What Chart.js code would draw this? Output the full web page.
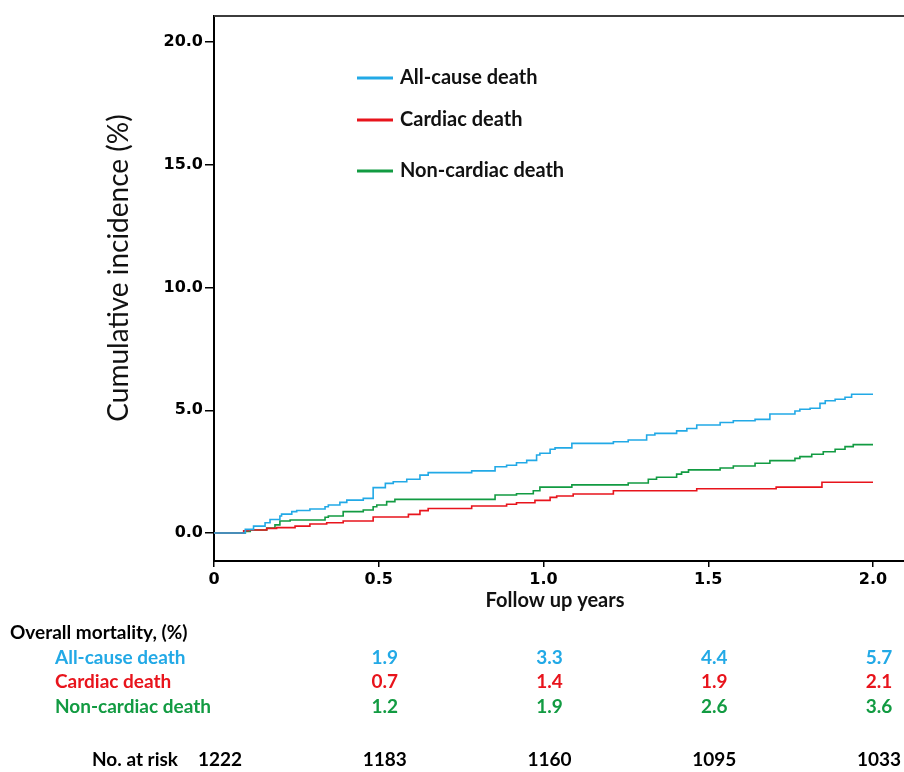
<!DOCTYPE html>
<html>
<head>
<meta charset="utf-8">
<script src="https://cdn.jsdelivr.net/npm/chart.js@4.4.1/dist/chart.umd.min.js"></script>
<style>
  html, body { margin: 0; padding: 0; background: #fff; }
  #wrap { width: 904px; height: 772px; }
</style>
</head>
<body>
<div id="wrap"><canvas id="chartIncidence" width="904" height="772"></canvas></div>
<script>
// Courbes d'incidence cumulée (années, %)
const allCauseT = [0, 0.095, 0.12, 0.155, 0.17, 0.2, 0.205, 0.236, 0.251, 0.291, 0.337, 0.347, 0.382, 0.403, 0.453, 0.483, 0.52, 0.544, 0.585, 0.625, 0.65, 0.782, 0.853, 0.888, 0.918, 0.949, 0.979, 0.989, 1.02, 1.035, 1.086, 1.212, 1.257, 1.313, 1.338, 1.404, 1.435, 1.465, 1.536, 1.576, 1.642, 1.687, 1.763, 1.778, 1.809, 1.839, 1.855, 1.885, 1.915, 1.935, 2.0];
const allCauseV = [0, 0.15, 0.28, 0.42, 0.55, 0.69, 0.77, 0.87, 0.92, 0.98, 1.07, 1.14, 1.25, 1.34, 1.41, 1.85, 2.02, 2.09, 2.19, 2.36, 2.46, 2.53, 2.70, 2.76, 2.86, 2.96, 3.18, 3.25, 3.41, 3.47, 3.65, 3.72, 3.79, 3.99, 4.06, 4.16, 4.26, 4.40, 4.50, 4.57, 4.63, 4.85, 4.97, 5.04, 5.08, 5.28, 5.39, 5.45, 5.53, 5.65, 5.65];

const cardiacT = [0, 0.09, 0.105, 0.16, 0.19, 0.246, 0.291, 0.342, 0.392, 0.483, 0.59, 0.625, 0.65, 0.782, 0.888, 0.918, 0.974, 1.02, 1.04, 1.09, 1.212, 1.465, 1.706, 1.845, 2.0];
const cardiacV = [0, 0.09, 0.12, 0.19, 0.22, 0.28, 0.37, 0.42, 0.49, 0.65, 0.76, 0.91, 1.0, 1.10, 1.17, 1.23, 1.33, 1.45, 1.51, 1.59, 1.72, 1.80, 1.87, 2.07, 2.07];

const nonCardiacT = [0, 0.095, 0.11, 0.16, 0.185, 0.2, 0.231, 0.337, 0.347, 0.392, 0.453, 0.483, 0.494, 0.524, 0.549, 0.853, 0.918, 0.969, 0.989, 1.086, 1.257, 1.318, 1.343, 1.404, 1.419, 1.44, 1.536, 1.576, 1.642, 1.687, 1.763, 1.778, 1.814, 1.849, 1.885, 1.915, 1.94, 2.0];
const nonCardiacV = [0, 0.06, 0.12, 0.2, 0.33, 0.49, 0.53, 0.64, 0.69, 0.87, 0.94, 1.07, 1.14, 1.28, 1.37, 1.55, 1.60, 1.72, 1.87, 1.96, 2.04, 2.19, 2.27, 2.40, 2.48, 2.57, 2.65, 2.73, 2.84, 2.95, 3.04, 3.11, 3.21, 3.31, 3.41, 3.52, 3.60, 3.60];

// Tableau sous le graphique
const seriesLabels = ['All-cause death', 'Cardiac death', 'Non-cardiac death'];
const seriesColors = ['#22a9e6', '#e8141c', '#129b42'];
const mortalityYears = [0.5, 1.0, 1.5, 2.0];
const mortalityAllCause = ['1.9', '3.3', '4.4', '5.7'];
const mortalityCardiac = ['0.7', '1.4', '1.9', '2.1'];
const mortalityNonCardiac = ['1.2', '1.9', '2.6', '3.6'];
const riskYears = [0, 0.5, 1.0, 1.5, 2.0];
const riskCounts = ['1222', '1183', '1160', '1095', '1033'];

const xTicks = [0, 0.5, 1.0, 1.5, 2.0];
const yTicks = [0, 5, 10, 15, 20];

function toPoints(t, v) {
    return t.map((x, i) => ({ x: x, y: v[i] }));
}

const TXT = "Lato, 'Open Sans', sans-serif";

// Plugin pour les titres, la légende et le tableau
const decorPlugin = {
    id: 'decor',
    afterDraw(chart) {
        const ctx = chart.ctx;
        const area = chart.chartArea;
        const xs = chart.scales.x;
        ctx.save();

        // Bordure du haut
        ctx.strokeStyle = '#3c3c3c';
        ctx.lineWidth = 2;
        ctx.beginPath();
        ctx.moveTo(area.left, area.top);
        ctx.lineTo(chart.width, area.top);
        ctx.stroke();

        // Titre de l'axe Y
        ctx.fillStyle = '#111';
        ctx.font = "28px " + TXT;
        ctx.textAlign = 'center';
        ctx.textBaseline = 'middle';
        ctx.save();
        ctx.translate(119, 268);
        ctx.rotate(-Math.PI / 2);
        ctx.fillText('Cumulative incidence (%)', 0, 0);
        ctx.restore();

        // Titre de l'axe X
        ctx.font = "bold 20px " + TXT;
        ctx.fillText('Follow up years', 555, 601);

        // Légende
        const legendY = [78, 120, 171];
        chart.data.datasets.forEach((ds, i) => {
            ctx.strokeStyle = ds.borderColor;
            ctx.lineWidth = 3;
            ctx.beginPath();
            ctx.moveTo(357, legendY[i]);
            ctx.lineTo(393, legendY[i]);
            ctx.stroke();
            ctx.fillStyle = '#111';
            ctx.font = "bold 20px " + TXT;
            ctx.textAlign = 'left';
            ctx.fillText(ds.label, 400, legendY[i]);
        });

        // Mortalité globale
        ctx.textAlign = 'left';
        ctx.fillStyle = '#000';
        ctx.font = "bold 19px " + TXT;
        ctx.fillText('Overall mortality, (%)', 10, 633);

        const rows = [mortalityAllCause, mortalityCardiac, mortalityNonCardiac];
        const rowY = [658, 682, 707];
        rows.forEach((vals, i) => {
            ctx.fillStyle = seriesColors[i];
            ctx.textAlign = 'left';
            ctx.fillText(seriesLabels[i], 55, rowY[i]);
            ctx.textAlign = 'center';
            vals.forEach((v, j) => {
                ctx.fillText(v, xs.getPixelForValue(mortalityYears[j]) + 6, rowY[i]);
            });
        });

        // Nombre à risque
        ctx.fillStyle = '#000';
        ctx.textAlign = 'right';
        ctx.fillText('No. at risk', 178, 760);
        ctx.textAlign = 'center';
        riskCounts.forEach((n, j) => {
            ctx.fillText(n, xs.getPixelForValue(riskYears[j]) + 6, 760);
        });

        ctx.restore();
    }
};

const canvas = document.getElementById('chartIncidence');

new Chart(canvas, {
    type: 'line',
    data: {
        datasets: [
            { label: seriesLabels[0], data: toPoints(allCauseT, allCauseV), borderColor: seriesColors[0] },
            { label: seriesLabels[1], data: toPoints(cardiacT, cardiacV), borderColor: seriesColors[1] },
            { label: seriesLabels[2], data: toPoints(nonCardiacT, nonCardiacV), borderColor: seriesColors[2] }
        ]
    },
    options: {
        responsive: false,
        animation: false,
        devicePixelRatio: 1,
        layout: { padding: { top: 16, left: 0, right: 0, bottom: 0 } },
        elements: {
            line: { borderWidth: 1.6, stepped: true, tension: 0, fill: false },
            point: { radius: 0 }
        },
        plugins: {
            legend: { display: false },
            tooltip: { enabled: false }
        },
        scales: {
            x: {
                type: 'linear',
                min: 0,
                max: 2.094,
                afterBuildTicks: s => { s.ticks = xTicks.map(v => ({ value: v })); },
                afterFit: s => { s.height = 772 - 561; },
                ticks: {
                    autoSkip: false,
                    maxRotation: 0,
                    padding: 3,
                    color: '#000',
                    font: { family: "'DejaVu Sans'", size: 16, weight: 'bold' },
                    callback: v => (v === 0 ? '0' : v.toFixed(1))
                },
                grid: { drawOnChartArea: false, drawTicks: true, tickLength: 6, color: '#000', lineWidth: 1.5 },
                border: { display: true, color: '#000', width: 2 }
            },
            y: {
                min: -1.14,
                max: 21.06,
                afterBuildTicks: s => { s.ticks = yTicks.map(v => ({ value: v })); },
                afterFit: s => { s.width = 214; },
                ticks: {
                    padding: 2,
                    color: '#000',
                    font: { family: "'DejaVu Sans'", size: 16, weight: 'bold' },
                    callback: v => v.toFixed(1)
                },
                grid: { drawOnChartArea: false, drawTicks: true, tickLength: 9, color: '#000', lineWidth: 1.5 },
                border: { display: true, color: '#000', width: 2 }
            }
        }
    },
    plugins: [decorPlugin]
});
</script>
</body>
</html>
